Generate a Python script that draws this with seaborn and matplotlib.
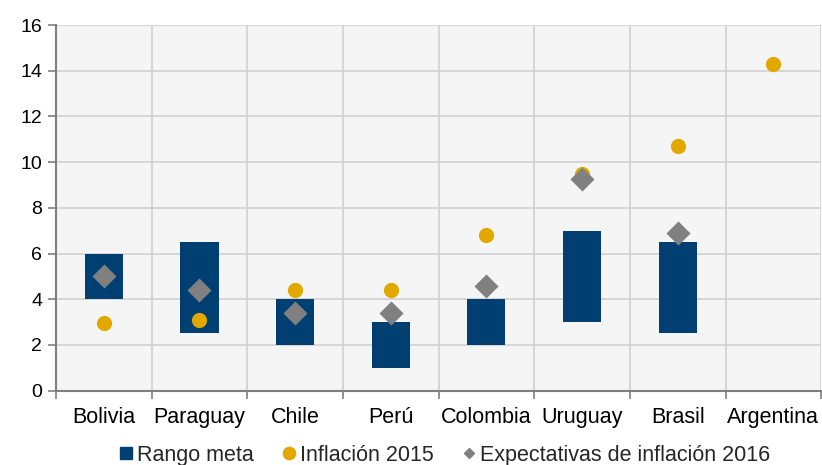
import matplotlib
matplotlib.use("Agg")
import matplotlib.pyplot as plt
from matplotlib.lines import Line2D
from matplotlib.ticker import FixedLocator
import numpy as np
import pandas as pd
import seaborn as sns

# Inflation targets, 2015 inflation and 2016 expectations by country (%)
paises = ["Bolivia", "Paraguay", "Chile", "Perú", "Colombia", "Uruguay", "Brasil", "Argentina"]
meta_min = [4.0, 2.5, 2.0, 1.0, 2.0, 3.0, 2.5, np.nan]
meta_max = [6.0, 6.5, 4.0, 3.0, 4.0, 7.0, 6.5, np.nan]
inflacion_2015 = [2.95, 3.1, 4.4, 4.4, 6.8, 9.5, 10.7, 14.3]
expectativas_2016 = [5.0, 4.4, 3.4, 3.4, 4.6, 9.25, 6.9, np.nan]
y_ticks = [0, 2, 4, 6, 8, 10, 12, 14, 16]

AZUL = "#003F72"
ORO = "#E2A800"
GRIS = "#808080"

df = pd.DataFrame({
    "pais": paises,
    "min": meta_min,
    "max": meta_max,
    "infl": inflacion_2015,
    "exp": expectativas_2016,
})
df["rango"] = df["max"] - df["min"]
barras = df.dropna(subset=["rango"])

sns.set_theme(style="white")
plt.rcParams["font.family"] = ["Liberation Sans", "DejaVu Sans"]

fig = plt.figure(figsize=(8.22, 4.65), dpi=100)
ax = fig.add_axes([0.068, 0.16, 0.931, 0.786])
ax.set_facecolor("#F5F5F5")

# Target range as floating bars
sns.barplot(data=barras, x="pais", y="rango", order=paises, bottom=barras["min"].to_numpy(),
            color=AZUL, saturation=1, width=0.4, errorbar=None, ax=ax,
            linewidth=0, zorder=3)
sns.scatterplot(data=df, x="pais", y="infl", color=ORO, s=120, marker="o",
                linewidth=0, ax=ax, zorder=4)
sns.scatterplot(data=df, x="pais", y="exp", color=GRIS, s=150, marker="D",
                linewidth=0, ax=ax, zorder=5)

n = len(paises)
ax.set_xlim(-0.5, n - 0.5)
ax.set_ylim(0, 16)
ax.set_yticks(y_ticks)
ax.set_xlabel("")
ax.set_ylabel("")

# Vertical grid on category boundaries
ax.xaxis.set_minor_locator(FixedLocator(np.arange(-0.5, n, 1.0)))
ax.grid(True, which="minor", axis="x", color="#D0D0D0", linewidth=1.2, zorder=0)
ax.grid(True, which="major", axis="y", color="#D0D0D0", linewidth=1.2, zorder=0)
ax.grid(False, which="major", axis="x")
ax.set_axisbelow(True)

ax.tick_params(axis="x", which="major", length=0, pad=12, labelsize=15.5, colors="black")
ax.tick_params(axis="x", which="minor", length=6, width=1.2, color="#7F7F7F", bottom=True)
ax.tick_params(axis="y", which="major", length=6, width=1.2, color="#7F7F7F",
               left=True, labelsize=14, labelcolor="black", pad=4)

for side in ["top", "right"]:
    ax.spines[side].set_visible(False)
for side in ["left", "bottom"]:
    ax.spines[side].set_color("#7F7F7F")
    ax.spines[side].set_linewidth(1.5)

handles = [
    Line2D([], [], linestyle="none", marker="s", markersize=8.6, color=AZUL),
    Line2D([], [], linestyle="none", marker="o", markersize=8.8, color=ORO),
    Line2D([], [], linestyle="none", marker="D", markersize=5.5, color=GRIS),
]
labels = ["Rango meta", "Inflación 2015", "Expectativas de inflación 2016"]
fig.legend(handles, labels, loc="center", bbox_to_anchor=(0.541, 0.021), ncol=3,
           frameon=False, fontsize=15.5, handlelength=0.6, handletextpad=0.2,
           columnspacing=1.35, borderaxespad=0, borderpad=0)

fig.savefig("out.png", dpi=100)
